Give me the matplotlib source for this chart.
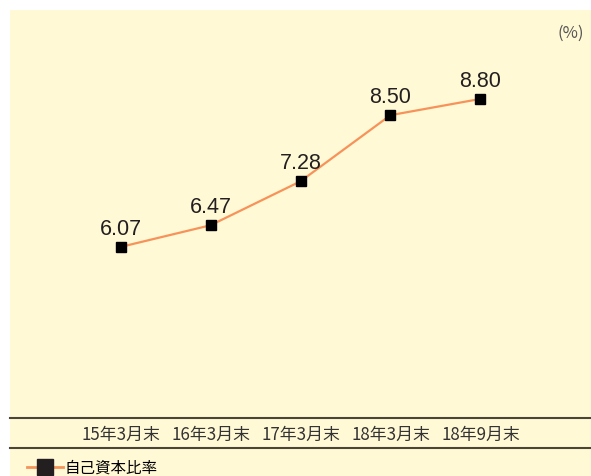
import matplotlib.pyplot as plt
from matplotlib.patches import Rectangle
from matplotlib.lines import Line2D

plt.rcParams['font.family'] = ['Liberation Sans', 'Noto Sans CJK JP', 'DejaVu Sans']

# data
categories = ['15年3月末', '16年3月末', '17年3月末', '18年3月末', '18年9月末']
ratio = [6.07, 6.47, 7.28, 8.50, 8.80]
series_name = '自己資本比率'

bg = '#FFF9D5'
line_color = '#F7935A'
text_color = '#231F20'
jp = ['Noto Sans CJK JP', 'DejaVu Sans']

W, H = 591, 477
fig = plt.figure(figsize=(W / 100, H / 100), dpi=100)
fig.patch.set_facecolor('white')

# yellow panel
fig.patches.append(Rectangle((10 / W, 0), 1 - 10 / W, 1 - 11 / H,
                             transform=fig.transFigure, facecolor=bg,
                             edgecolor='none', zorder=-10))

ax = fig.add_axes([10 / W, 58 / H, 1 - 10 / W, (419 - 11) / H])
ax.set_facecolor('none')
ax.set_zorder(2)

x = list(range(len(categories)))
ax.plot(x, ratio, color=line_color, lw=1.6, marker='s', ms=7.2,
        mfc='black', mec='black', zorder=3)
for xi, v in zip(x, ratio):
    ax.annotate(f'{v:.2f}', (xi, v), xytext=(0, 6), textcoords='offset points',
                ha='center', va='bottom', fontsize=15.5, color=text_color)

ax.set_xlim(-1.23, 5.23)
ax.set_ylim(2.915, 10.44)
ax.set_yticks([])
ax.set_xticks(x)
ax.set_xticklabels(categories, fontsize=12.2, color='#333333', family=jp)
ax.tick_params(axis='x', length=0, pad=5)
for s in ['top', 'left', 'right']:
    ax.spines[s].set_visible(False)
ax.spines['bottom'].set_color('#4A4536')
ax.spines['bottom'].set_linewidth(1.5)

# second rule under the category labels
fig.add_artist(Line2D([10 / W, 1], [1 - 448.5 / H, 1 - 448.5 / H],
                      transform=fig.transFigure, color='#4A4536', lw=1.5))

fig.text(584 / W, 1 - 33 / H, '(%)', ha='right', va='center',
         fontsize=12, color='#555555', family=jp)

handle = Line2D([], [], color=line_color, lw=2, marker='s', ms=11.5,
                mfc='#231F20', mec='#231F20')
fig.legend([handle], [series_name], loc='center left',
           bbox_to_anchor=(27 / W, 1 - 468.5 / H), frameon=False,
           prop={'family': jp, 'size': 11.2}, handlelength=2.3,
           handletextpad=0.12, borderaxespad=0, borderpad=0)

fig.savefig('out.png', dpi=100)
